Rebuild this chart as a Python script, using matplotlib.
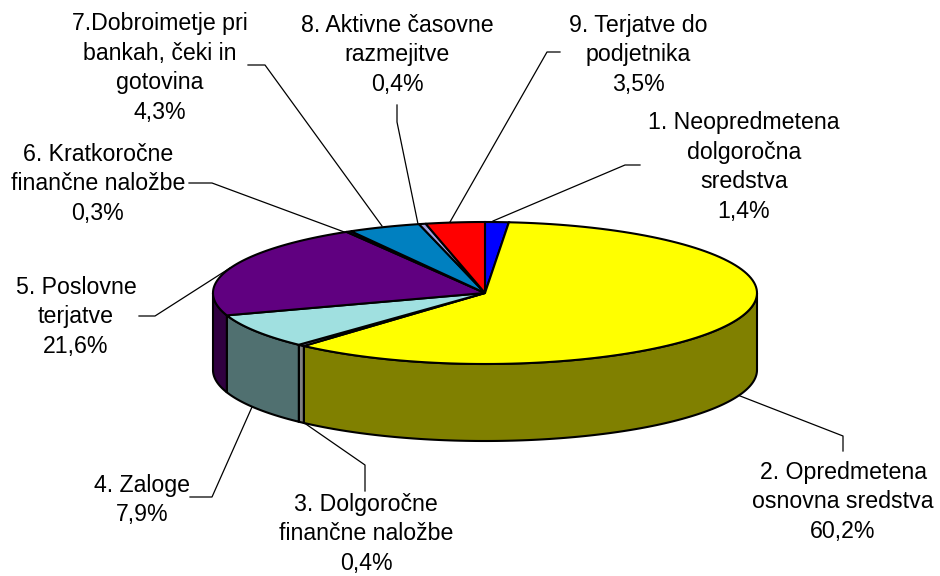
import numpy as np
import matplotlib
matplotlib.use('Agg')
import matplotlib.pyplot as plt

plt.rcParams['font.family'] = ['Liberation Sans', 'DejaVu Sans']

# delezi po postavkah, v smeri urinega kazalca od vrha
labels = [
    '1. Neopredmetena\ndolgoročna\nsredstva\n1,4%',
    '2. Opredmetena\nosnovna sredstva\n60,2%',
    '3. Dolgoročne\nfinančne naložbe\n0,4%',
    '4. Zaloge\n7,9%',
    '5. Poslovne\nterjatve\n21,6%',
    '6. Kratkoročne\nfinančne naložbe\n0,3%',
    '7.Dobroimetje pri\nbankah, čeki in\ngotovina\n4,3%',
    '8. Aktivne časovne\nrazmejitve\n0,4%',
    '9. Terjatve do\npodjetnika\n3,5%',
]
values = [1.4, 60.2, 0.4, 7.9, 21.6, 0.3, 4.3, 0.4, 3.5]

top_colors = ['#0000FF', '#FFFF00', '#9999CC', '#A0E0E0', '#600080',
              '#000080', '#0080C0', '#A0A0E0', '#FF0000']
side_colors = ['#000080', '#808000', '#808080', '#507070', '#300040',
               '#000040', '#004060', '#505070', '#800000']

label_pos = [(744, 167), (843, 502), (366, 534), (142, 500), (76, 317),
             (98, 184), (160, 68), (397, 55), (638, 55)]
# lomljene crte od torte do oznake
leaders = [
    [(493, 221), (625, 165), (640, 165)],
    [(735, 394), (843, 436), (843, 451)],
    [(300, 420), (365, 465), (365, 491)],
    [(252, 407), (212, 497), (190, 497)],
    [(230, 268), (155, 316), (139, 316)],
    [(347, 233), (212, 183), (189, 183)],
    [(382, 226), (265, 65), (248, 65)],
    [(418, 224), (397, 122), (397, 105)],
    [(450, 222), (547, 52), (560, 52)],
]

cx, cy = 485, 293
rx, ry = 272, 71
depth = 77


def rim(t):
    return cx + rx * np.sin(t), cy - ry * np.cos(t)


fig = plt.figure(figsize=(9.4, 5.76), dpi=100)
ax = fig.add_axes([0, 0, 1, 1])
ax.set_xlim(0, 940)
ax.set_ylim(576, 0)
ax.axis('off')

edges = np.radians(np.concatenate([[0], np.cumsum(values)]) * 3.6)

# stranske ploskve, vidna je samo sprednja polovica
for i in range(len(values)):
    a = max(edges[i], np.pi / 2)
    b = min(edges[i + 1], 3 * np.pi / 2)
    if b <= a:
        continue
    t = np.linspace(a, b, 120)
    x, y = rim(t)
    ax.fill(np.r_[x, x[::-1]], np.r_[y, y[::-1] + depth],
            facecolor=side_colors[i], edgecolor='black', lw=1.5, zorder=2)

# zgornje ploskve
for i in range(len(values)):
    t = np.linspace(edges[i], edges[i + 1], 120)
    x, y = rim(t)
    ax.fill(np.r_[cx, x], np.r_[cy, y],
            facecolor=top_colors[i], edgecolor='black', lw=1.5, zorder=3)

for pts in leaders:
    xs, ys = zip(*pts)
    ax.plot(xs, ys, color='black', lw=0.9, zorder=1)

for lab, (lx, ly) in zip(labels, label_pos):
    ax.text(lx, ly, lab, ha='center', va='center', fontsize=16.7,
            linespacing=1.38, color='black', zorder=4)

fig.savefig('out.png', dpi=100)
